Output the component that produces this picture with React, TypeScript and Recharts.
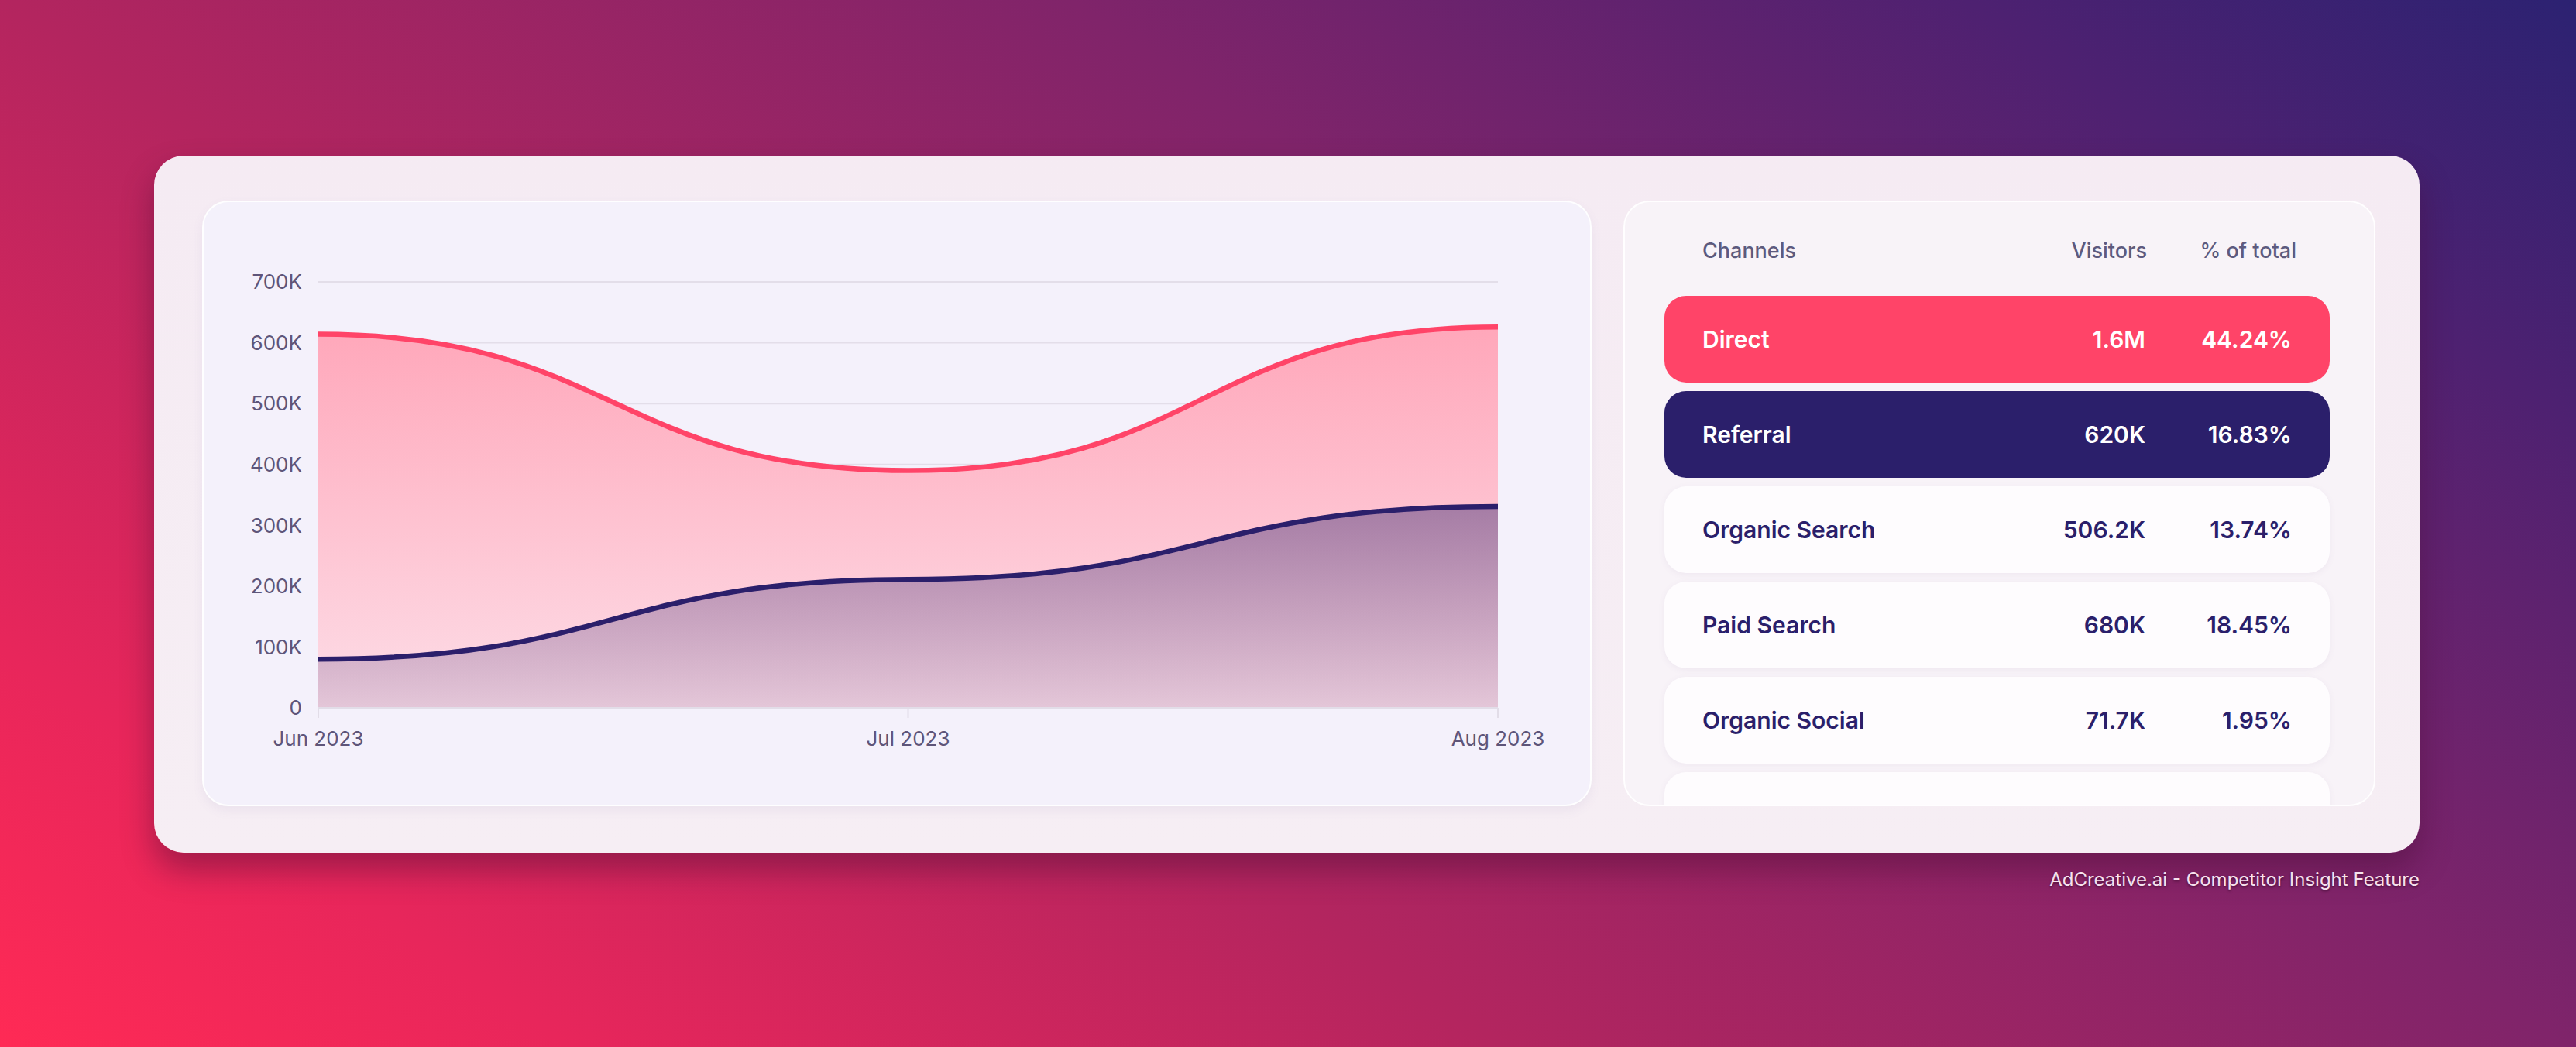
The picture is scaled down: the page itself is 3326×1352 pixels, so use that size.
import { Area, AreaChart, CartesianGrid, XAxis, YAxis } from 'recharts';

const months = ['Jun 2023', 'Jul 2023', 'Aug 2023'];
const directVisitors = [614000, 390000, 626000];
const referralVisitors = [80000, 211000, 331000];
const yTicks = [0, 100000, 200000, 300000, 400000, 500000, 600000, 700000];

const channelNames = ['Direct', 'Referral', 'Organic Search', 'Paid Search', 'Organic Social', ''];
const channelVisitors = ['1.6M', '620K', '506.2K', '680K', '71.7K', ''];
const channelShares = ['44.24%', '16.83%', '13.74%', '18.45%', '1.95%', ''];

const data = months.map((month, i) => ({
  month,
  direct: directVisitors[i],
  referral: referralVisitors[i],
}));

const FONT = 'Inter, "Noto Sans", sans-serif';
const PINK = '#FF4468';
const NAVY = '#2B1F6B';

const rowStyle = (i: number) => {
  if (i === 0) return { background: PINK, color: '#fff' };
  if (i === 1) return { background: NAVY, color: '#fff' };
  return { background: '#FEFCFE', color: NAVY, boxShadow: '0 2px 8px rgba(120,90,140,0.07)' };
};

function TrafficChart() {
  return (
    <AreaChart
      width={1794}
      height={782}
      data={data}
      margin={{ top: 105, right: 121, left: 50, bottom: 67 }}
    >
      <defs>
        <linearGradient id="directFill" x1="0" y1="0" x2="0" y2="1">
          <stop offset="0%" stopColor="#FFA7BA" />
          <stop offset="100%" stopColor="#FDDDE7" />
        </linearGradient>
        <linearGradient id="referralFill" x1="0" y1="0" x2="0" y2="1">
          <stop offset="0%" stopColor={NAVY} stopOpacity={0.42} />
          <stop offset="100%" stopColor={NAVY} stopOpacity={0.12} />
        </linearGradient>
      </defs>
      <CartesianGrid vertical={false} stroke="#E3DEE9" strokeWidth={2} />
      <XAxis
        dataKey="month"
        height={60}
        axisLine={{ stroke: '#E2DDE8', strokeWidth: 2 }}
        tickLine={{ stroke: '#E2DDE8', strokeWidth: 2 }}
        tickSize={13}
        tickMargin={18}
        tick={{ fill: '#5E5579', fontSize: 26, fontFamily: FONT }}
        interval={0}
      />
      <YAxis
        width={100}
        domain={[0, 700000]}
        ticks={yTicks}
        axisLine={false}
        tickLine={false}
        tickSize={0}
        tickMargin={21}
        tick={{ fill: '#5E5579', fontSize: 26, fontFamily: FONT }}
        tickFormatter={(v: number) => (v === 0 ? '0' : `${v / 1000}K`)}
      />
      <Area
        type="bumpX"
        dataKey="direct"
        stroke={PINK}
        strokeWidth={6.5}
        fill="url(#directFill)"
        fillOpacity={1}
        isAnimationActive={false}
      />
      <Area
        type="bumpX"
        dataKey="referral"
        stroke={NAVY}
        strokeWidth={6.5}
        fill="url(#referralFill)"
        fillOpacity={1}
        isAnimationActive={false}
      />
    </AreaChart>
  );
}

export default function App() {
  return (
    <div
      style={{
        position: 'absolute',
        left: 0,
        top: 0,
        width: 3326,
        height: 1352,
        overflow: 'hidden',
        fontFamily: FONT,
        background:
          'linear-gradient(35deg, #FF2A55 0%, #E8265B 14%, #B3255F 37%, #80246A 63%, #4E2171 85%, #2C2272 100%)',
      }}
    >
      {/* outer card */}
      <div
        style={{
          position: 'absolute',
          left: 199,
          top: 201,
          width: 2925,
          height: 900,
          borderRadius: 38,
          background: 'linear-gradient(180deg, #F5EBF3 0%, #F6EEF4 100%)',
          boxShadow: '0 22px 40px rgba(70,10,50,0.45)',
        }}
      />
      {/* chart card */}
      <div
        style={{
          position: 'absolute',
          left: 261,
          top: 259,
          width: 1794,
          height: 782,
          boxSizing: 'border-box',
          borderRadius: 34,
          background: '#F4F1FB',
          border: '2px solid rgba(255,255,255,0.9)',
          boxShadow: '0 6px 14px rgba(120,100,170,0.08)',
        }}
      />
      <div style={{ position: 'absolute', left: 261, top: 259 }}>
        <TrafficChart />
      </div>
      {/* table card */}
      <div
        style={{
          position: 'absolute',
          left: 2096,
          top: 259,
          width: 971,
          height: 782,
          boxSizing: 'border-box',
          borderRadius: 34,
          background: '#F8F3F8',
          border: '2px solid rgba(255,255,255,0.9)',
          overflow: 'hidden',
        }}
      >
        <div
          style={{
            position: 'absolute',
            left: 100,
            top: 47,
            width: 767,
            height: 32,
            fontSize: 27,
            fontWeight: 500,
            color: '#5D5A7E',
            lineHeight: '32px',
          }}
        >
          <span style={{ position: 'absolute', left: 0 }}>Channels</span>
          <span style={{ position: 'absolute', right: 193 }}>Visitors</span>
          <span style={{ position: 'absolute', right: 0 }}>% of total</span>
        </div>
        {channelNames.map((name, i) => (
          <div
            key={i}
            style={{
              position: 'absolute',
              left: 51,
              top: 121 + i * 123,
              width: 859,
              height: 112,
              borderRadius: 28,
              fontSize: 30,
              fontWeight: 600,
              lineHeight: '112px',
              ...rowStyle(i),
            }}
          >
            <span style={{ position: 'absolute', left: 49 }}>{name}</span>
            <span style={{ position: 'absolute', right: 238 }}>{channelVisitors[i]}</span>
            <span style={{ position: 'absolute', right: 49 }}>{channelShares[i]}</span>
          </div>
        ))}
      </div>
      <div
        style={{
          position: 'absolute',
          right: 3326 - 3124,
          top: 1121,
          fontSize: 24,
          color: '#F6E2EE',
          textShadow: '0 2px 3px rgba(40,0,30,0.55)',
        }}
      >
        AdCreative.ai - Competitor Insight Feature
      </div>
    </div>
  );
}
